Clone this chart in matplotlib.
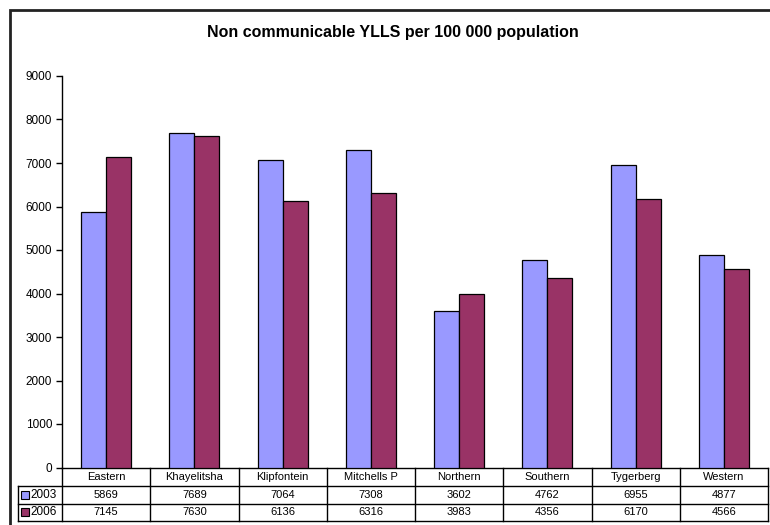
import numpy as np
import matplotlib.pyplot as plt
from matplotlib.patches import Rectangle
from matplotlib.lines import Line2D
import matplotlib.transforms as mtransforms

plt.rcParams['font.family'] = ['Liberation Sans', 'DejaVu Sans']

districts = ['Eastern', 'Khayelitsha', 'Klipfontein', 'Mitchells P',
             'Northern', 'Southern', 'Tygerberg', 'Western']
years = ['2003', '2006']
yll_2003 = [5869, 7689, 7064, 7308, 3602, 4762, 6955, 4877]
yll_2006 = [7145, 7630, 6136, 6316, 3983, 4356, 6170, 4566]
colours = ['#9999FF', '#993366']
title = 'Non communicable YLLS per 100 000 population'

W, H = 770, 525
fig = plt.figure(figsize=(W / 100, H / 100), dpi=100)

# outer chart frame (Excel style)
fig.patches.append(Rectangle((9.5 / W, -0.1), 2, 1.1 - 9.5 / H,
                             transform=fig.transFigure, fill=False,
                             edgecolor='#222222', linewidth=2))

left, right, bottom, top = 62, 768, 467.5, 76
ax = fig.add_axes([left / W, 1 - bottom / H, (right - left) / W, (bottom - top) / H])

x = np.arange(len(districts))
bw = 0.283
series = [yll_2003, yll_2006]
for k, vals in enumerate(series):
    ax.bar(x + (k - 0.5) * bw, vals, width=bw, color=colours[k],
           edgecolor='black', linewidth=0.9, zorder=3)

ax.set_xlim(-0.5, len(districts) - 0.5)
ax.set_ylim(0, 9000)
ax.set_yticks(np.arange(0, 9001, 1000))
ax.tick_params(axis='y', labelsize=8.5, length=4, width=1, pad=3, direction='out')
ax.set_xticks([])
for s in ['top', 'right', 'bottom']:
    ax.spines[s].set_visible(False)
ax.spines['left'].set_linewidth(1)

fig.text(0.5 + 8 / W, 1 - 33 / H, title, ha='center', va='center',
         fontsize=11.5, fontweight='bold')

# data table below the axes
row_h = [467.5, 486, 503.5, 521]
row_y = [(bottom - r) / (bottom - top) for r in row_h]
trans = mtransforms.blended_transform_factory(ax.transData, ax.transAxes)
lab_left = (18 - left) / (right - left)

# horizontal lines
ax.add_line(Line2D([-0.5, len(districts) - 0.5], [row_y[0]] * 2, transform=trans,
                   color='black', lw=1, clip_on=False))
for ry in row_y[1:]:
    ax.add_line(Line2D([lab_left, 1], [ry] * 2, transform=ax.transAxes,
                       color='black', lw=1, clip_on=False))
# vertical lines
for i in range(len(districts) + 1):
    ax.add_line(Line2D([i - 0.5] * 2, [row_y[0], row_y[3]], transform=trans,
                       color='black', lw=1, clip_on=False))
ax.add_line(Line2D([lab_left] * 2, [row_y[1], row_y[3]], transform=ax.transAxes,
                   color='black', lw=1, clip_on=False))

for i, name in enumerate(districts):
    ax.text(i, (row_y[0] + row_y[1]) / 2, name, transform=trans, ha='center',
            va='center', fontsize=8)
    for k, vals in enumerate(series):
        ax.text(i, (row_y[k + 1] + row_y[k + 2]) / 2, str(vals[i]),
                transform=trans, ha='center', va='center', fontsize=8)

sq = 8 / (right - left)
sq_h = 8 / (bottom - top)
for k, yr in enumerate(years):
    yc = (row_y[k + 1] + row_y[k + 2]) / 2
    ax.add_patch(Rectangle((lab_left + 3 / (right - left), yc - sq_h / 2), sq, sq_h,
                           transform=ax.transAxes, facecolor=colours[k],
                           edgecolor='black', lw=0.8, clip_on=False))
    ax.text(lab_left + 12 / (right - left), yc, yr, transform=ax.transAxes,
            ha='left', va='center', fontsize=8.5)

fig.savefig('out.png', dpi=100)
